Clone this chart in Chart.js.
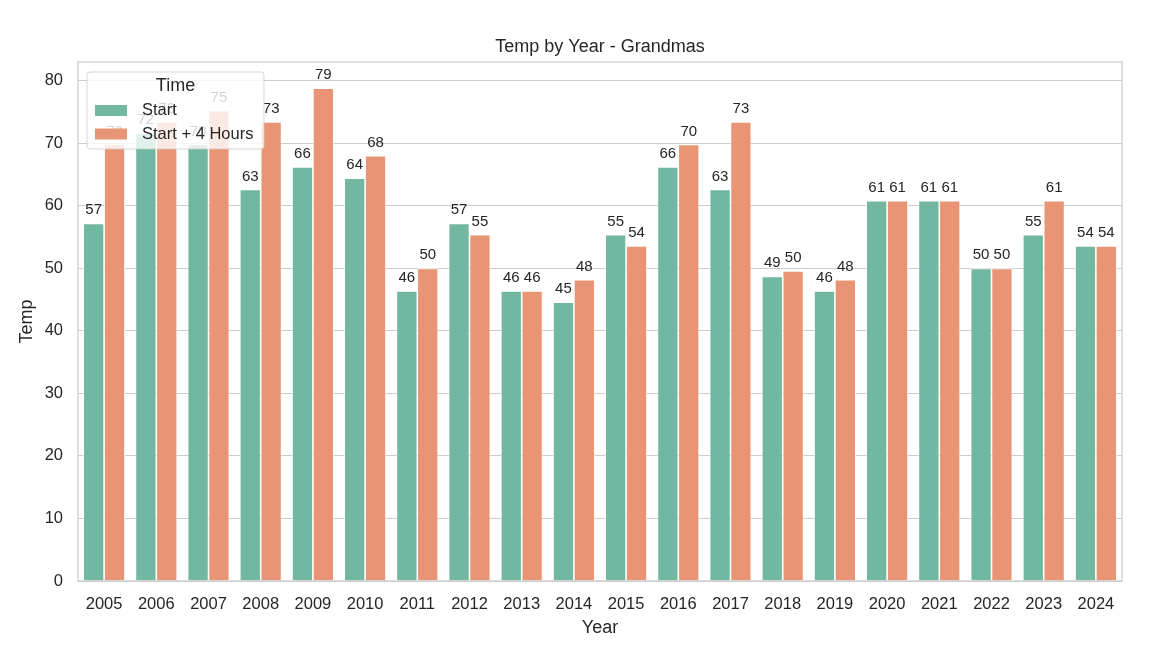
<!DOCTYPE html>
<html><head><meta charset="utf-8">
<script src="https://cdn.jsdelivr.net/npm/chart.js@4.4.1/dist/chart.umd.min.js"></script>
<style>html,body{margin:0;padding:0;background:#fff}#wrap{width:1160px;height:664px}</style>
</head><body><div id="wrap"><canvas id="c" width="1160" height="664"></canvas></div>
<script>
const years = ['2005','2006','2007','2008','2009','2010','2011','2012','2013','2014','2015','2016','2017','2018','2019','2020','2021','2022','2023','2024'];
const startTemps = [57.2,71.6,69.8,62.6,66.2,64.4,46.4,57.2,46.4,44.6,55.4,66.2,62.6,48.7,46.4,60.8,60.8,50.0,55.4,53.6];
const plus4Temps = [69.8,73.4,75.2,73.4,78.8,68.0,50.0,55.4,46.4,48.2,53.6,69.8,73.4,49.6,48.2,60.8,60.8,50.0,60.8,53.6];
const yTicks = [0,10,20,30,40,50,60,70,80];
const seriesNames = ['Start','Start + 4 Hours'];
const legendTitle = 'Time';
const chartTitle = 'Temp by Year - Grandmas';
const xTitle = 'Year';
const yTitle = 'Temp';

const FONT = "'Liberation Sans', Arial, sans-serif";
const TXT = '#262626';
const GREEN = 'rgb(113,183,161)';
const ORANGE = 'rgb(233,149,117)';

const barLabels = {
  id: 'barLabels',
  afterDatasetsDraw(chart) {
    const ctx = chart.ctx;
    const a = chart.chartArea;
    // frame (spines)
    ctx.save();
    ctx.strokeStyle = '#cccccc';
    ctx.lineWidth = 1.25;
    ctx.strokeRect(a.left, a.top, a.right - a.left, a.bottom - a.top);
    ctx.restore();
    ctx.save();
    ctx.font = '15px ' + FONT;
    ctx.fillStyle = TXT;
    ctx.textAlign = 'center';
    ctx.textBaseline = 'alphabetic';
    chart.data.datasets.forEach((ds, di) => {
      const meta = chart.getDatasetMeta(di);
      meta.data.forEach((el, i) => {
        ctx.fillText(Math.round(ds.data[i]).toString(), el.x, el.y - 9);
      });
    });
    ctx.restore();
  },
  afterDraw(chart) {
    const ctx = chart.ctx;
    const a = chart.chartArea;
    ctx.save();
    // title centred over the plot area
    ctx.fillStyle = TXT;
    ctx.font = '18px ' + FONT;
    ctx.textAlign = 'center';
    ctx.textBaseline = 'middle';
    ctx.fillText(chartTitle, (a.left + a.right) / 2, a.top - 14.5);
    // legend
    const bx = 87, by = 72, bw = 177, bh = 77, r = 3;
    ctx.beginPath();
    ctx.moveTo(bx + r, by);
    ctx.arcTo(bx + bw, by, bx + bw, by + bh, r);
    ctx.arcTo(bx + bw, by + bh, bx, by + bh, r);
    ctx.arcTo(bx, by + bh, bx, by, r);
    ctx.arcTo(bx, by, bx + bw, by, r);
    ctx.closePath();
    ctx.fillStyle = 'rgba(255,255,255,0.8)';
    ctx.fill();
    ctx.strokeStyle = 'rgba(204,204,204,0.8)';
    ctx.lineWidth = 1;
    ctx.stroke();
    ctx.fillStyle = TXT;
    ctx.font = '18px ' + FONT;
    ctx.textAlign = 'center';
    ctx.textBaseline = 'middle';
    ctx.fillText(legendTitle, bx + bw / 2, by + 14);
    ctx.font = '16.5px ' + FONT;
    ctx.textAlign = 'left';
    chart.data.datasets.forEach((ds, i) => {
      const y = by + 33 + i * 23.5;
      ctx.fillStyle = ds.backgroundColor;
      ctx.fillRect(bx + 8, y, 32, 11);
      ctx.fillStyle = TXT;
      ctx.fillText(ds.label, bx + 55, y + 5.5);
    });
    ctx.restore();
  }
};

new Chart(document.getElementById('c'), {
  type: 'bar',
  data: {
    labels: years,
    datasets: [
      { label: seriesNames[0], data: startTemps, backgroundColor: GREEN, borderColor: '#ffffff', borderWidth: 0.8, borderSkipped: 'bottom' },
      { label: seriesNames[1], data: plus4Temps, backgroundColor: ORANGE, borderColor: '#ffffff', borderWidth: 0.8, borderSkipped: 'bottom' }
    ]
  },
  options: {
    responsive: false,
    animation: false,
    devicePixelRatio: 1,
    layout: { padding: { left: 0, right: 38, top: 62, bottom: 0 } },
    datasets: { bar: { categoryPercentage: 0.8, barPercentage: 1.0 } },
    plugins: {
      legend: { display: false },
      tooltip: { enabled: false },
      title: { display: false }
    },
    scales: {
      x: {
        grid: { display: false, drawTicks: false },
        border: { display: false },
        ticks: { color: TXT, font: { family: FONT, size: 16.5 }, padding: 14, maxRotation: 0, autoSkip: false },
        title: { display: true, text: xTitle, color: TXT, font: { family: FONT, size: 18, lineHeight: 1.2 }, padding: { top: 0, bottom: 25.5 } },
        afterFit(s) { s.height = 83; }
      },
      y: {
        min: 0, max: 83,
        grid: { color: '#cccccc', lineWidth: 1, drawTicks: false },
        border: { display: false },
        ticks: { color: TXT, font: { family: FONT, size: 16.5 }, padding: 15 },
        afterBuildTicks(s) { s.ticks = yTicks.map(v => ({ value: v })); },
        title: { display: true, text: yTitle, color: TXT, font: { family: FONT, size: 18, lineHeight: 1.2 }, padding: { top: 16.5, bottom: 0 } },
        afterFit(s) { s.width = 78; }
      }
    }
  },
  plugins: [barLabels]
});
</script>
</body></html>
